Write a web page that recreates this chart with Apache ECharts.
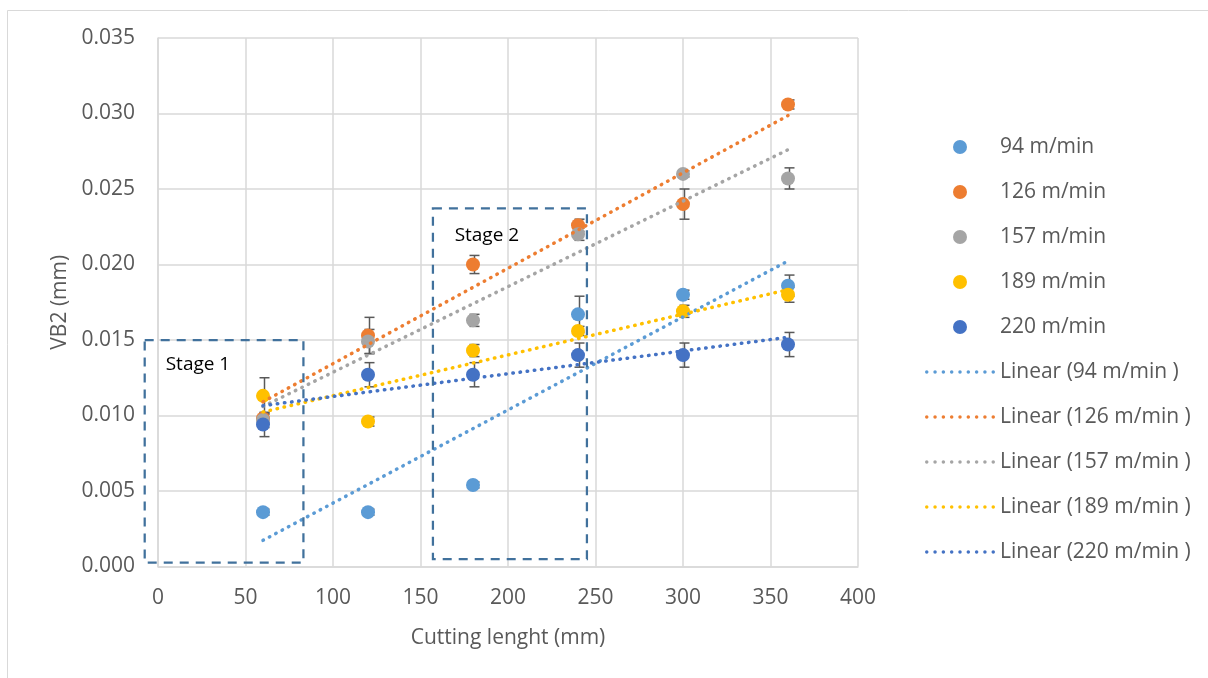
<!DOCTYPE html>
<html><head><meta charset="utf-8">
<script src="https://cdn.jsdelivr.net/npm/echarts@6/dist/echarts.min.js"></script>
<style>html,body{margin:0;padding:0;background:#fff}#c{width:1208px;height:678px}</style>
</head><body><div id="c"></div>
<script>
// ---- data ----
const cuttingLength = [60, 120, 180, 240, 300, 360];
const seriesNames = ['94 m/min', '126 m/min', '157 m/min', '189 m/min', '220 m/min'];
const trendNames = ['Linear (94 m/min )', 'Linear (126 m/min )', 'Linear (157 m/min )', 'Linear (189 m/min )', 'Linear (220 m/min )'];
const vb94  = [0.0036, 0.0036, 0.0054, 0.0167, 0.0180, 0.0186];
const vb126 = [0.0098, 0.0153, 0.0200, 0.0226, 0.0240, 0.0306];
const vb157 = [0.0097, 0.0149, 0.0163, 0.0220, 0.0260, 0.0257];
const vb189 = [0.0113, 0.0096, 0.0143, 0.0156, 0.0169, 0.0180];
const vb220 = [0.0094, 0.0127, 0.0127, 0.0140, 0.0140, 0.0147];
const err94  = [0.0002, 0.0002, 0.0002, 0.0012, 0.0003, 0.0007];
const err126 = [0.0003, 0.0012, 0.0006, 0.0004, 0.0010, 0.0003];
const err157 = [0.0005, 0.0008, 0.0004, 0.0004, 0.0002, 0.0007];
const err189 = [0.0012, 0.0003, 0.0004, 0.0003, 0.0004, 0.0005];
const err220 = [0.0008, 0.0008, 0.0008, 0.0008, 0.0008, 0.0008];
const allValues = [vb94, vb126, vb157, vb189, vb220];
const allErrors = [err94, err126, err157, err189, err220];
// annotation boxes, in data coordinates
const stageLabels = ['Stage 1', 'Stage 2'];
const stageBoxX = [[-7.6, 83.1], [157.1, 245.1]];
const stageBoxY = [[0.00026, 0.0150], [0.00049, 0.02372]];
const stageLabelAt = [[4.4, 0.01335], [169.5, 0.02194]];

// ---- styles ----
const colors = ['#5B9BD5', '#ED7D31', '#A5A5A5', '#FFC000', '#4472C4'];
const FONT = '"Open Sans", "Noto Sans", sans-serif';
const GRID = '#D9D9D9';
const TXT = '#595959';

// dotted legend icon path (9 round dots)
let dotPath = 'path://';
for (let k = 0; k < 9; k++) {
  const cx = 1.75 + k * 8.3;
  dotPath += 'M' + (cx - 1.75) + ',1.75a1.75,1.75 0 1,0 3.5,0a1.75,1.75 0 1,0 -3.5,0z';
}

function linFit(xs, ys) {
  const n = xs.length;
  const mx = xs.reduce((a, b) => a + b, 0) / n;
  const my = ys.reduce((a, b) => a + b, 0) / n;
  let sxy = 0, sxx = 0;
  for (let i = 0; i < n; i++) { sxy += (xs[i] - mx) * (ys[i] - my); sxx += (xs[i] - mx) ** 2; }
  const b = sxy / sxx, a = my - b * mx;
  return [[xs[0], a + b * xs[0]], [xs[n - 1], a + b * xs[n - 1]]];
}

const series = [];
allValues.forEach((vals, i) => {
  series.push({
    name: 'err' + i, type: 'custom', z: 2 + i * 0.1,
    data: cuttingLength.map((x, j) => [x, vals[j], allErrors[i][j]]),
    renderItem: function (params, api) {
      const x = api.value(0), y = api.value(1), e = api.value(2);
      const t = api.coord([x, y + e]), b = api.coord([x, y - e]);
      const cx = t[0] + 1.5;
      const st = { stroke: '#595959', lineWidth: 1.5 };
      return { type: 'group', children: [
        { type: 'line', shape: { x1: cx, y1: t[1], x2: cx, y2: b[1] }, style: st },
        { type: 'line', shape: { x1: cx - 5, y1: t[1], x2: cx + 5, y2: t[1] }, style: st },
        { type: 'line', shape: { x1: cx - 5, y1: b[1], x2: cx + 5, y2: b[1] }, style: st }
      ]};
    },
    silent: true
  });
  series.push({
    name: seriesNames[i], type: 'scatter', z: 3 + i * 0.1, symbol: 'circle', symbolSize: 14,
    itemStyle: { color: colors[i], opacity: 1 },
    data: cuttingLength.map((x, j) => [x, vals[j]])
  });
});
allValues.forEach((vals, i) => {
  series.push({
    name: trendNames[i], type: 'line', z: 4, symbol: 'none', showSymbol: false,
    lineStyle: { color: colors[i], width: 3.5, type: [0.5, 6.7], cap: 'round' },
    itemStyle: { color: colors[i] },
    data: linFit(cuttingLength, vals)
  });
});

const chart = echarts.init(document.getElementById('c'));
const axisCommon = {
  type: 'value',
  axisLine: { show: true, onZero: false, lineStyle: { color: GRID, width: 1.5 } },
  axisTick: { show: false },
  splitLine: { show: true, lineStyle: { color: GRID, width: 1.5 } },
  nameLocation: 'middle',
  nameTextStyle: { color: TXT, fontSize: 21, fontFamily: FONT }
};
chart.setOption({
  animation: false,
  backgroundColor: '#fff',
  grid: { left: 158, top: 38, width: 700, height: 528.5 },
  xAxis: Object.assign({}, axisCommon, {
    min: 0, max: 400, interval: 50,
    name: 'Cutting lenght (mm)', nameGap: 61,
    axisLabel: { color: TXT, fontSize: 21, fontFamily: FONT, margin: 21 }
  }),
  yAxis: Object.assign({}, axisCommon, {
    min: 0, max: 0.035, interval: 0.005,
    name: 'VB2 (mm)', nameGap: 52,
    axisLabel: { color: TXT, fontSize: 21, fontFamily: FONT, margin: 23, formatter: v => v.toFixed(3) }
  }),
  legend: {
    orient: 'vertical', left: 920, top: 130,
    itemWidth: 70, itemHeight: 14, itemGap: 21,
    data: seriesNames.map(n => ({ name: n, icon: 'circle' }))
      .concat(trendNames.map(n => ({ name: n, icon: dotPath, itemStyle: { borderWidth: 0 } }))),
    textStyle: { color: TXT, fontSize: 21, fontFamily: FONT, lineHeight: 24 },
    selectedMode: false
  },
  series: series
});

const graphics = [{
  type: 'rect', silent: true, z: 0,
  shape: { x: 7.5, y: 10.5, width: 1212, height: 690 },
  style: { fill: 'none', stroke: GRID, lineWidth: 1 }
}];
stageLabels.forEach((lab, k) => {
  const p0 = chart.convertToPixel({ gridIndex: 0 }, [stageBoxX[k][0], stageBoxY[k][1]]);
  const p1 = chart.convertToPixel({ gridIndex: 0 }, [stageBoxX[k][1], stageBoxY[k][0]]);
  graphics.push({
    type: 'rect', silent: true, z: 10,
    shape: { x: p0[0], y: p0[1], width: p1[0] - p0[0], height: p1[1] - p0[1] },
    style: { fill: 'none', stroke: '#41719C', lineWidth: 2.25, lineDash: [9, 7] }
  });
  const lp = chart.convertToPixel({ gridIndex: 0 }, stageLabelAt[k]);
  graphics.push({
    type: 'text', silent: true, z: 10, x: lp[0], y: lp[1],
    style: { text: lab, fill: '#000', font: '19px ' + FONT, textVerticalAlign: 'middle', textAlign: 'left' }
  });
});
chart.setOption({ graphic: graphics });
</script></body></html>
